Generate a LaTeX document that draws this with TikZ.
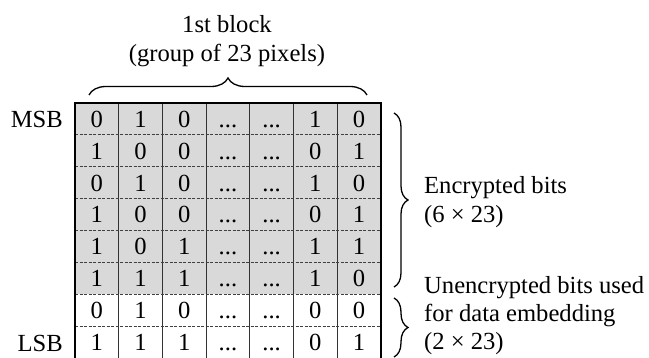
\documentclass[tikz,border=0pt]{standalone}
\usepackage{fontspec}
\setmainfont{Liberation Serif}
\usetikzlibrary{decorations.pathreplacing}
\definecolor{cellgray}{RGB}{217,217,217}
\newcommand{\gap}{...}
\tikzstyle{cell} = [inner sep=0pt, text height=16.6pt, text depth=0pt, font=\fontsize{24.6}{29.5}\selectfont]
\tikzstyle{caption} = [inner sep=0pt, font=\fontsize{24.6}{29.5}\selectfont]
\tikzstyle{colline} = [line width=1pt, black!80]
\tikzstyle{rowline} = [line width=0.9pt, black!75, dash pattern=on 3pt off 1.5pt]
\tikzstyle{frame} = [line width=2.5pt, black]
\tikzstyle{bracket} = [line width=1.3pt, decorate]

\begin{document}
\begin{tikzpicture}[x=1pt,y=-1pt]
    \useasboundingbox (0,0) rectangle (649,358);

    % Shading of the encrypted rows
    \fill[cellgray] (75,103) rectangle (380.9,294.4);

    % Grid
    \foreach \c in {1,...,6}
        \draw[colline] ({75+43.7*\c},103) -- ({75+43.7*\c},360);
    \foreach \r in {1,...,7}
        \draw[rowline] (75,{103+31.9*\r}) -- (380.9,{103+31.9*\r});
    \draw[frame] (75,362) |- (380.9,103) -- (380.9,362);

    % Nodes
    \foreach \bits [count=\r] in {{0,1,0,\gap,\gap,1,0},{1,0,0,\gap,\gap,0,1},
        {0,1,0,\gap,\gap,1,0},{1,0,0,\gap,\gap,0,1},{1,0,1,\gap,\gap,1,1},
        {1,1,1,\gap,\gap,1,0},{0,1,0,\gap,\gap,0,0},{1,1,1,\gap,\gap,0,1}}
        \foreach \b [count=\c] in \bits
            \node (bit-\r-\c) [cell] at ({75+43.7*(\c-0.5)},{103+31.9*(\r-0.5)}) {\b};

    \node (msb) [caption, anchor=east] at (63,119.5) {MSB};
    \node (lsb) [caption, anchor=east] at (63,343) {LSB};
    \node (title) [caption, align=center] at (227,41) {1st block\\(group of 23 pixels)};
    \node (enc) [caption, anchor=west, align=left] at (424,202) {Encrypted bits\\(6 × 23)};
    \node (unenc) [caption, anchor=west, align=left, font=\fontsize{24.6}{28.3}\selectfont]
        at (424,315.5) {Unencrypted bits used\\for data embedding\\(2 × 23)};

    % Braces
    \draw[bracket, decoration={brace, amplitude=17pt}] (89,95) -- (367,95);
    \draw[bracket, decoration={brace, amplitude=14pt}] (394,113) -- (394,287);
    \draw[bracket, decoration={brace, amplitude=14pt}] (394,298) -- (394,357);

\end{tikzpicture}
\end{document}
